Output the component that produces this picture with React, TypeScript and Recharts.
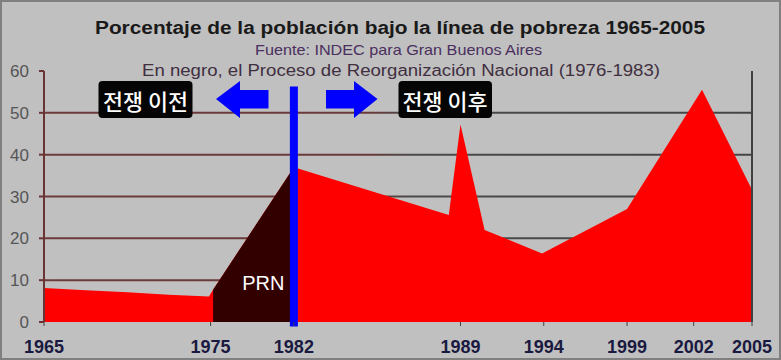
import { ComposedChart, Area, XAxis, YAxis, CartesianGrid, ReferenceLine } from "recharts";

// positions on the x axis are counted in half-years from 1965
const samplePos = [0, 5, 10, 15, 19.8, 20.3, 30, 48.6, 50, 52.9, 59.8, 70, 79, 85];
const pobreza = [8.1, 7.6, 7.1, 6.5, 6.1, 7.7, 37, 25.6, 47.2, 22.0, 16.4, 27.0, 55.5, 31.6];
const prn = [null, null, null, null, null, 7.7, 37, null, null, null, null, null, null, null];

const tickPos = [0, 20, 30, 50, 60, 70, 78, 85];
const tickYears = ["1965", "1975", "1982", "1989", "1994", "1999", "2002", "2005"];
const yTicks = [0, 10, 20, 30, 40, 50, 60];
const gridValues = [10, 20, 30, 40, 50];

const data = samplePos.map((t, i) => ({ t, pobreza: pobreza[i], prn: prn[i] }));

const FONT = "'Liberation Sans', Arial, sans-serif";
const KFONT = "'Noto Sans CJK KR', sans-serif";

const yearLabel = (v: number) => {
  const i = tickPos.indexOf(v);
  return i >= 0 ? tickYears[i] : "";
};

export default function App() {
  return (
    <div style={{ position: "absolute", left: 0, top: 0, width: 781, height: 360, background: "#c0c0c0" }}>
      <ComposedChart
        width={781}
        height={360}
        data={data}
        margin={{ top: 71, right: 29, bottom: 0, left: 0 }}
      >
        <defs>
          <linearGradient id="gridGrad" gradientUnits="userSpaceOnUse" x1={44} y1={0} x2={752} y2={0}>
            <stop offset="0" stopColor="#6e3a3a" />
            <stop offset="0.46" stopColor="#6a3a3a" />
            <stop offset="0.52" stopColor="#4a4a4a" />
            <stop offset="1" stopColor="#454545" />
          </linearGradient>
        </defs>
        <CartesianGrid
          vertical={false}
          horizontalValues={gridValues}
          stroke="url(#gridGrad)"
          strokeWidth={2}
        />
        <XAxis
          dataKey="t"
          type="number"
          domain={[0, 85]}
          ticks={tickPos}
          interval={0}
          tickFormatter={yearLabel}
          height={38}
          axisLine={false}
          tickLine={{ stroke: "#404040" }}
          tickSize={4}
          tickMargin={14}
          tick={{ fill: "#1a1a40", fontSize: 18, fontWeight: "bold", fontFamily: FONT }}
        />
        <YAxis
          domain={[0, 60]}
          ticks={yTicks}
          interval={0}
          width={44}
          axisLine={{ stroke: "#6b3434", strokeWidth: 2 }}
          tickLine={{ stroke: "#6b3434", strokeWidth: 2 }}
          tickSize={5}
          tickMargin={10}
          tick={{ fill: "#555555", fontSize: 17, fontFamily: FONT }}
        />
        <Area
          type="linear"
          dataKey="pobreza"
          stroke="none"
          fill="#ff0000"
          fillOpacity={1}
          isAnimationActive={false}
          dot={false}
          activeDot={false}
        />
        <Area
          type="linear"
          dataKey="prn"
          stroke="none"
          fill="#330000"
          fillOpacity={1}
          isAnimationActive={false}
          dot={false}
          activeDot={false}
        />
        <ReferenceLine x={85} stroke="#404040" strokeWidth={2} />
        <ReferenceLine
          segment={[{ x: 30, y: -1.1 }, { x: 30, y: 56.3 }]}
          stroke="#0000ff"
          strokeWidth={8}
          ifOverflow="visible"
        />
      </ComposedChart>
      <svg
        width={781}
        height={360}
        style={{ position: "absolute", left: 0, top: 0, pointerEvents: "none" }}
      >
        <text x={400} y={33.5} textAnchor="middle" fontFamily={FONT} fontWeight="bold" fontSize={18}
          fill="#1a1a1a" textLength={610} lengthAdjust="spacingAndGlyphs">
          Porcentaje de la población bajo la línea de pobreza 1965-2005
        </text>
        <text x={398.5} y={55} textAnchor="middle" fontFamily={FONT} fontSize={14.5}
          fill="#4a2f5e" textLength={287} lengthAdjust="spacingAndGlyphs">
          Fuente: INDEC para Gran Buenos Aires
        </text>
        <text x={401} y={75.5} textAnchor="middle" fontFamily={FONT} fontSize={16}
          fill="#3f2f3f" textLength={518} lengthAdjust="spacingAndGlyphs">
          En negro, el Proceso de Reorganización Nacional (1976-1983)
        </text>

        <polygon points="216,99 240,81 240,90 268.5,90 268.5,108.5 240,108.5 240,118" fill="#0000ff" />
        <polygon points="377.5,99 354,81 354,90 326,90 326,108.5 354,108.5 354,118" fill="#0000ff" />

        <rect x={98.5} y={81} width={94} height={37} rx={4} fill="#050505" />
        <text x={145.5} y={100} textAnchor="middle" dominantBaseline="central" fontFamily={KFONT}
          fontWeight={500} fontSize={22} fill="#ffffff" textLength={85} lengthAdjust="spacingAndGlyphs">
          전쟁 이전
        </text>
        <rect x={398.5} y={81} width={93.5} height={37} rx={4} fill="#050505" />
        <text x={445} y={100} textAnchor="middle" dominantBaseline="central" fontFamily={KFONT}
          fontWeight={500} fontSize={22} fill="#ffffff" textLength={85} lengthAdjust="spacingAndGlyphs">
          전쟁 이후
        </text>

        <text x={263.4} y={290} textAnchor="middle" fontFamily={FONT} fontSize={20} fill="#ffffff">
          PRN
        </text>

        <rect x={1} y={1} width={779} height={358} fill="none" stroke="#808080" strokeWidth={2} />
      </svg>
    </div>
  );
}
